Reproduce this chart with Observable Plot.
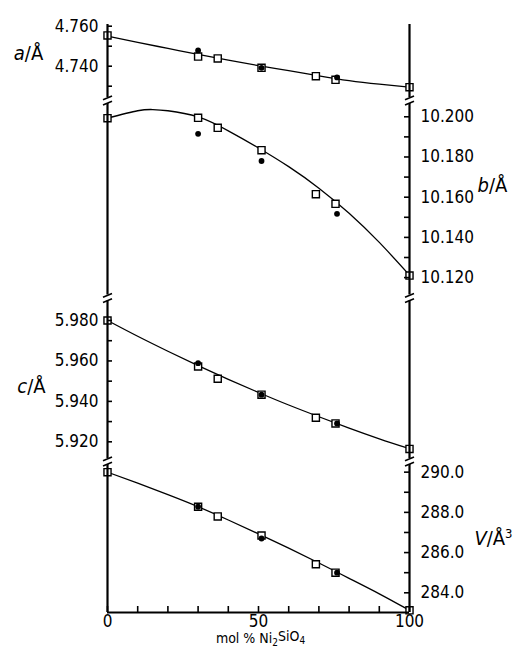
<!DOCTYPE html>
<html><head><meta charset="utf-8">
<script src="https://cdn.jsdelivr.net/npm/d3@7"></script>
<script src="https://cdn.jsdelivr.net/npm/@observablehq/plot@0.6"></script>
<style>
html,body{margin:0;padding:0;background:#fff;}
#chart{position:relative;width:514px;height:651px;background:#fff;}
#chart svg{position:absolute;left:0;top:0;}
</style></head><body><div id="chart"></div>
<script>
// ---- data ----
const xSquares = [0, 30, 36.5, 51, 69, 75.5, 100];
const aSquares = [4.7554, 4.7448, 4.7439, 4.7392, 4.7350, 4.7332, 4.7295];
const bSquares = [10.1993, 10.1995, 10.1945, 10.1834, 10.1615, 10.1567, 10.1210];
const cSquares = [5.9800, 5.9573, 5.9512, 5.9433, 5.9319, 5.9291, 5.9165];
const vSquares = [290.00, 288.28, 287.80, 286.85, 285.42, 285.00, 283.13];

const xCircles = [30, 51, 76];
const aCircles = [4.7479, 4.7392, 4.7344];
const bCircles = [10.1915, 10.1780, 10.1517];
const cCircles = [5.9589, 5.9433, 5.9291];
const vCircles = [288.28, 286.70, 285.00];

const xFitA = [0, 10, 20, 30, 40, 50, 60, 70, 80, 90, 100];
const aFit = [4.7550, 4.7519, 4.7489, 4.7459, 4.7430, 4.7403, 4.7378, 4.7352, 4.7328, 4.7310, 4.7295];
const xFitB = [0, 10, 15, 20, 30, 40, 50, 60, 70, 80, 90, 100];
const bFit = [10.1993, 10.2030, 10.2036, 10.2030, 10.1999, 10.1930, 10.1845, 10.1752, 10.1645, 10.1520, 10.1375, 10.1212];
const xFitC = [0, 10, 20, 30, 40, 50, 60, 70, 80, 90, 100];
const cFit = [5.9800, 5.9722, 5.9648, 5.9577, 5.9509, 5.9444, 5.9382, 5.9324, 5.9268, 5.9215, 5.9166];
const xFitV = [0, 10, 20, 30, 40, 50, 60, 70, 80, 90, 100];
const vFit = [290.00, 289.45, 288.88, 288.28, 287.62, 286.93, 286.22, 285.48, 284.72, 283.95, 283.13];

const aTicks = [4.730, 4.740, 4.750, 4.760];
const aTickLabels = [4.740, 4.760];
const bTicks = [10.120, 10.130, 10.140, 10.150, 10.160, 10.170, 10.180, 10.190, 10.200];
const bTickLabels = [10.120, 10.140, 10.160, 10.180, 10.200];
const cTicks = [5.920, 5.930, 5.940, 5.950, 5.960, 5.970, 5.980];
const cTickLabels = [5.920, 5.940, 5.960, 5.980];
const vTicks = [284, 285, 286, 287, 288, 289, 290];
const vTickLabels = [284, 286, 288, 290];
const xTicks = [0, 10, 20, 30, 40, 50, 60, 70, 80, 90, 100];
const xTickLabels = [0, 50, 100];
const xTitle = "mol % Ni2SiO4";

// ---- layout ----
const W = 514, H = 651, ML = 107, MR = 105;
const FW = W - ML - MR;
const FONT = "'Liberation Sans Narrow','DejaVu Sans Condensed','Liberation Sans',Arial,sans-serif";

const panels = [
  {title: "a/Å", top: 24, bottom: 100, domain: [4.72285, 4.76085], side: "left", ticks: aTicks, labels: aTickLabels, fmt: ".3f",
   xs: xSquares, sq: aSquares, ci: aCircles, fx: xFitA, fit: aFit, topBreak: false, bottomBreak: true, tdx: -79, tdy: 21},
  {title: "b/Å", top: 100, bottom: 297.5, domain: [10.10985, 10.2081], side: "right", ticks: bTicks, labels: bTickLabels, fmt: ".3f",
   xs: xSquares, sq: bSquares, ci: bCircles, fx: xFitB, fit: bFit, topBreak: true, bottomBreak: true, tdx: 83, tdy: 77},
  {title: "c/Å", top: 297.5, bottom: 461, domain: [5.91026, 5.99113], side: "left", ticks: cTicks, labels: cTickLabels, fmt: ".3f",
   xs: xSquares, sq: cSquares, ci: cCircles, fx: xFitC, fit: cFit, topBreak: true, bottomBreak: true, tdx: -76, tdy: 81},
  {title: "V/Å³", top: 461, bottom: 612, domain: [283.02, 290.53], side: "right", ticks: vTicks, labels: vTickLabels, fmt: ".1f",
   xs: xSquares, sq: vSquares, ci: vCircles, fx: xFitV, fit: vFit, topBreak: true, bottomBreak: false, tdx: 84, tdy: 69, xAxis: true}
];

const chart = document.getElementById("chart");

for (const p of panels) {
  const FH = p.bottom - p.top;
  const pxPerUnit = FH / (p.domain[1] - p.domain[0]);
  const val = py => p.domain[0] + (p.bottom - py) / pxPerUnit;
  const pxX = 100 / FW;
  const marks = [];

  // fitted curve
  marks.push(Plot.line(p.fx.map((x, i) => ({x, y: p.fit[i]})), {x: "x", y: "y", curve: "natural", stroke: "black", strokeWidth: 1.3}));
  // open squares
  marks.push(Plot.dot(p.xs.map((x, i) => ({x, y: p.sq[i]})), {x: "x", y: "y", symbol: "square", r: 4, fill: "white", stroke: "black", strokeWidth: 1.4}));
  // filled circles
  marks.push(Plot.dot(xCircles.map((x, i) => ({x, y: p.ci[i]})), {x: "x", y: "y", r: 2.9, fill: "black"}));

  // axis lines (left & right), with gaps at breaks
  marks.push(Plot.ruleX([0, 100], {stroke: "black", strokeWidth: 2.2, insetTop: p.topBreak ? 3 : 0, insetBottom: p.bottomBreak ? 3 : 0}));
  // break strokes at bottom boundary
  if (p.bottomBreak) {
    const br = [];
    for (const ax of [0, 100]) for (const off of [-2.6, 2.6]) {
      const cy = p.bottom + off;
      br.push({x1: ax - 4.5 * pxX, x2: ax + 4.5 * pxX, y1: val(cy + 1.8), y2: val(cy - 1.8)});
    }
    marks.push(Plot.link(br, {x1: "x1", y1: "y1", x2: "x2", y2: "y2", stroke: "black", strokeWidth: 1.6}));
  }
  // inward ticks
  marks.push(Plot.tickY(p.ticks, {y: d => d, stroke: "black", strokeWidth: 1.6,
    ...(p.side === "left" ? {insetRight: FW - 5} : {insetLeft: FW - 5})}));
  // tick labels
  marks.push(Plot.axisY(p.labels, {anchor: p.side, tickSize: 0, tickPadding: p.side === "left" ? 9 : 11,
    tickFormat: d3.format(p.fmt), label: null, fontSize: 17}));
  // axis title
  marks.push(Plot.text([p.title], {frameAnchor: p.side === "left" ? "top-left" : "top-right", dx: p.tdx, dy: p.tdy,
    fontSize: 20, textAnchor: "middle"}));

  if (p.xAxis) {
    marks.push(Plot.ruleY([p.domain[0]], {stroke: "black", strokeWidth: 2.2}));
    marks.push(Plot.tickX(xTicks, {x: d => d, stroke: "black", strokeWidth: 1.6, insetTop: FH - 6}));
    marks.push(Plot.axisX(xTickLabels, {anchor: "bottom", tickSize: 0, tickPadding: 2, label: null, fontSize: 17}));
    marks.push(Plot.text([xTitle], {frameAnchor: "bottom", dx: 2, dy: 30, fontSize: 14}));
  }

  const svg = Plot.plot({
    width: W, height: H,
    marginLeft: ML, marginRight: MR, marginTop: p.top, marginBottom: H - p.bottom,
    x: {domain: [0, 100], axis: null},
    y: {domain: p.domain, axis: null},
    style: {background: "none", fontFamily: FONT, fontSize: "17px", overflow: "visible"},
    marks
  });
  chart.appendChild(svg);
}

// rich text: italic symbol letters, subscripts
d3.select(chart).selectAll("text").each(function () {
  const t = this.textContent;
  const el = d3.select(this);
  const m = /^([abcV])(\/Å)(³?)$/.exec(t);
  if (m) {
    el.text(null);
    el.append("tspan").attr("font-style", "italic").text(m[1]);
    el.append("tspan").text(m[2]);
    if (m[3]) el.append("tspan").attr("font-size", "13").attr("dy", "-0.55em").text("3");
  } else if (t === xTitle) {
    el.text(null);
    el.append("tspan").text("mol % Ni");
    el.append("tspan").attr("font-size", "10").attr("dy", "0.3em").text("2");
    el.append("tspan").attr("dy", "-0.3em").text("SiO");
    el.append("tspan").attr("font-size", "10").attr("dy", "0.3em").text("4");
  }
});
</script></body></html>
